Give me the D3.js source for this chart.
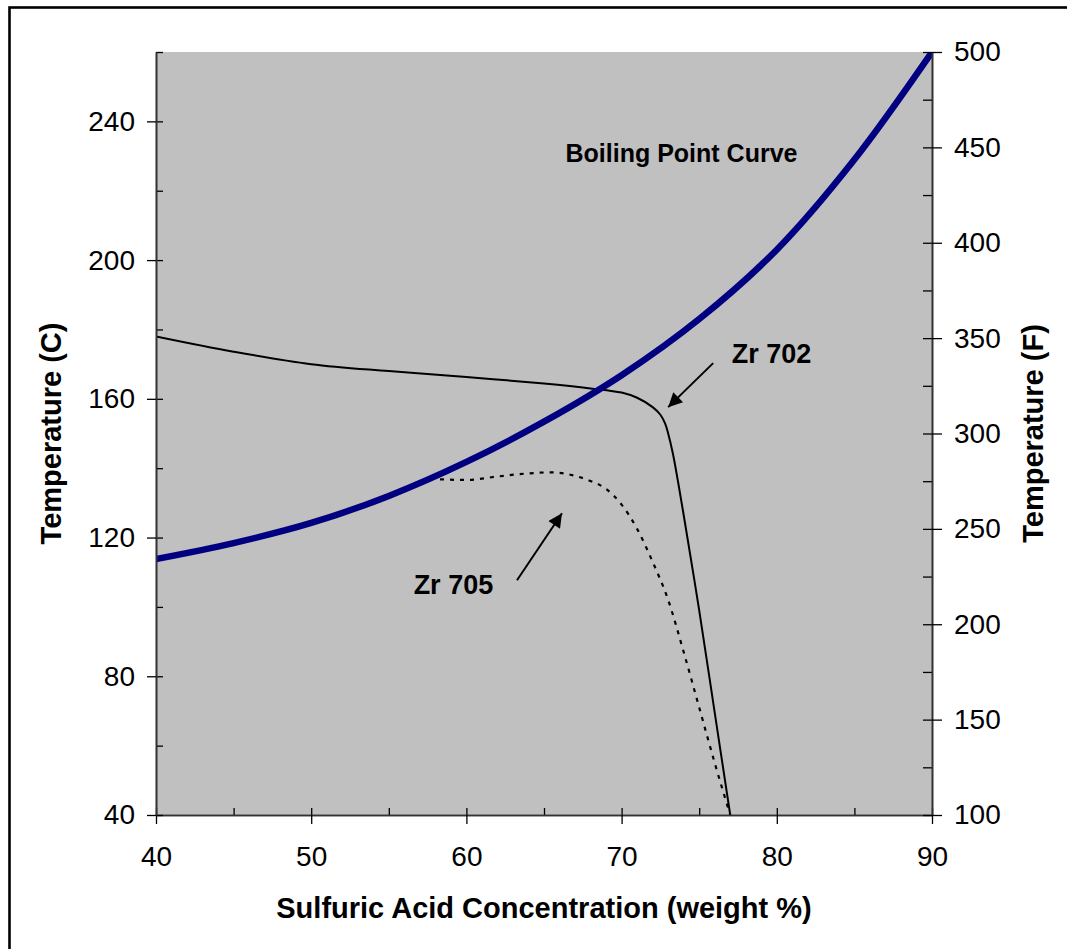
<!DOCTYPE html>
<html>
<head>
<meta charset="utf-8">
<script src="https://cdnjs.cloudflare.com/ajax/libs/d3/7.8.5/d3.min.js"></script>
<style>
  body { margin: 0; background: #fff; }
  svg { display: block; font-family: Arial, "Liberation Sans", sans-serif; }
  .tick text { font-size: 28px; fill: #000; }
  .axis-title { font-size: 29px; font-weight: bold; }
  .note { font-weight: bold; }
</style>
</head>
<body>
<svg id="chart" width="1067" height="949"></svg>
<script>
// boiling point of sulfuric acid [weight %, deg C]
const boiling = [
  [40, 113.8], [45, 118.4], [50, 124.2], [55, 132], [60, 141.8],
  [65, 153.4], [70, 166.8], [75, 183], [80, 203], [85, 229], [90, 260]
];
// isocorrosion line, Zr 702
const zr702 = [
  [40, 178], [45, 173.6], [50, 170], [55, 168], [60, 166.3], [65, 164.4],
  [68, 163], [70, 161.8], [71, 160.3], [72, 157.6], [72.5, 155.4], [72.8, 152.9],
  [73, 150], [73.3, 144.3], [73.6, 137], [74, 126.5], [75, 99], [76, 69.5], [77, 40]
];
// isocorrosion line, Zr 705
const zr705 = [
  [58.3, 136.8], [60, 136.6], [62, 137.6], [64, 138.5], [65.5, 138.8],
  [67, 137.8], [68, 136.3], [69, 134], [70, 129.5], [71, 122.5], [72, 113],
  [73, 102], [74, 87], [75, 71], [76, 55], [77, 40]
];
const xTicks = [40, 50, 60, 70, 80, 90];
const xMinor = [45, 55, 65, 75, 85];
const cTicks = [40, 80, 120, 160, 200, 240];
const cMinor = [60, 100, 140, 180, 220, 260];
const fTicks = [100, 150, 200, 250, 300, 350, 400, 450, 500];
const fMinor = [125, 175, 225, 275, 325, 375, 425, 475];
// annotations: [label, x, C, anchor, size]
const labels = [
  ["Boiling Point Curve", 73.86, 228.2, "middle", 25],
  ["Zr 702", 77.1, 170.2, "start", 27],
  ["Zr 705", 56.6, 103.7, "start", 27]
];
// arrows: [fromX, fromC, toX, toC]
const arrows = [
  [75.9, 170.3, 73.0, 157.6],
  [63.26, 107.7, 66.16, 127.0]
];

const svg = d3.select("#chart");
const L = 156, R = 932, T = 52, B = 815;

const x = d3.scaleLinear().domain([40, 90]).range([L, R]);
const y = d3.scaleLinear().domain([40, 260]).range([B, T]);
const yF = d3.scaleLinear().domain([100, 500]).range([B, T]);

// outer frame
svg.append("rect").attr("x", 9.5).attr("y", 7.5).attr("width", 1200).attr("height", 1100)
  .attr("fill", "none").attr("stroke", "#000").attr("stroke-width", 2.6);

// plot area
svg.append("rect").attr("x", L).attr("y", T).attr("width", R - L).attr("height", B - T)
  .attr("fill", "#c0c0c0");

const defs = svg.append("defs");
defs.append("clipPath").attr("id", "clip")
  .append("rect").attr("x", L).attr("y", T).attr("width", R - L).attr("height", B - T);

const plot = svg.append("g").attr("clip-path", "url(#clip)");
const line = d3.line().x(d => x(d[0])).y(d => y(d[1])).curve(d3.curveMonotoneX);
const smooth = d3.line().x(d => x(d[0])).y(d => y(d[1])).curve(d3.curveCatmullRom.alpha(0.5));

plot.append("path").datum(zr705).attr("d", line).attr("fill", "none")
  .attr("stroke", "#000").attr("stroke-width", 2.2).attr("stroke-dasharray", "4,6");
plot.append("path").datum(zr702).attr("d", smooth).attr("fill", "none")
  .attr("stroke", "#000").attr("stroke-width", 2);
plot.append("path").datum(boiling).attr("d", smooth).attr("fill", "none")
  .attr("stroke", "#000080").attr("stroke-width", 6.5);

// axes
function styleAxis(g) {
  g.select(".domain").attr("stroke", "#333").attr("stroke-width", 1.6);
  g.selectAll(".tick line").attr("stroke", "#000").attr("stroke-width", 1.3);
}
const gx = svg.append("g").attr("transform", `translate(0,${B})`);
gx.call(d3.axisBottom(x).tickValues(xTicks.concat(xMinor)).tickSize(-7).tickFormat("").tickSizeOuter(0)).call(styleAxis);
gx.append("g").call(d3.axisBottom(x).tickValues(xTicks).tickSize(9).tickSizeOuter(0).tickPadding(22)).call(styleAxis);

const gl = svg.append("g").attr("transform", `translate(${L},0)`);
gl.call(d3.axisLeft(y).tickValues(cTicks.concat(cMinor)).tickSize(-7).tickFormat("").tickSizeOuter(0)).call(styleAxis);
gl.append("g").call(d3.axisLeft(y).tickValues(cTicks).tickSize(9).tickSizeOuter(0).tickPadding(12)).call(styleAxis);

const gr = svg.append("g").attr("transform", `translate(${R},0)`);
gr.call(d3.axisRight(yF).tickValues(fTicks.concat(fMinor)).tickSize(-9).tickFormat("").tickSizeOuter(0)).call(styleAxis);
gr.append("g").call(d3.axisRight(yF).tickValues(fTicks).tickSize(10).tickSizeOuter(0).tickPadding(12)).call(styleAxis);

svg.selectAll(".tick text").attr("font-family", null).attr("font-size", null);

// titles
svg.append("text").attr("class", "axis-title").attr("x", (L + R) / 2).attr("y", 918)
  .attr("text-anchor", "middle").text("Sulfuric Acid Concentration (weight %)");
svg.append("text").attr("class", "axis-title")
  .attr("transform", `translate(61,${(T + B) / 2}) rotate(-90)`)
  .attr("text-anchor", "middle").text("Temperature (C)");
svg.append("text").attr("class", "axis-title")
  .attr("transform", `translate(1043,${(T + B) / 2}) rotate(-90)`)
  .attr("text-anchor", "middle").text("Temperature (F)");

// annotations
svg.selectAll(".note").data(labels).join("text").attr("class", "note")
  .attr("x", d => x(d[1])).attr("y", d => y(d[2]))
  .attr("text-anchor", d => d[3]).attr("font-size", d => d[4] + "px")
  .text(d => d[0]);

defs.append("marker").attr("id", "head")
  .attr("viewBox", "0 0 10 10").attr("refX", 10).attr("refY", 5)
  .attr("markerWidth", 9).attr("markerHeight", 7).attr("markerUnits", "strokeWidth")
  .attr("orient", "auto")
  .append("path").attr("d", "M0,0L10,5L0,10z").attr("fill", "#000");

svg.selectAll(".arrow").data(arrows).join("line").attr("class", "arrow")
  .attr("x1", d => x(d[0])).attr("y1", d => y(d[1]))
  .attr("x2", d => x(d[2])).attr("y2", d => y(d[3]))
  .attr("stroke", "#000").attr("stroke-width", 2).attr("marker-end", "url(#head)");
</script>
</body>
</html>
